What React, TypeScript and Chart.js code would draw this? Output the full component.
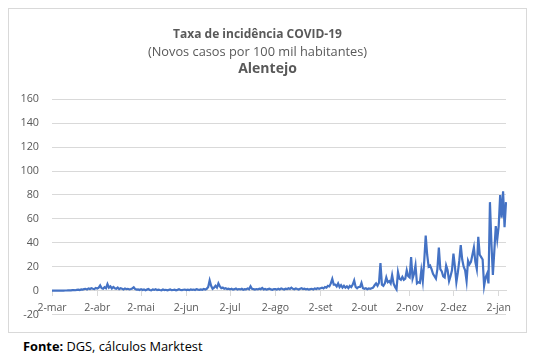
import React, { useEffect, useRef } from "react";
import { Chart, registerables } from "chart.js";

Chart.register(...registerables);

const FONT = "'Open Sans', 'Noto Sans', sans-serif";
const TEXT_COLOR = "#595959";
const GRID_COLOR = "#d9d9d9";
const LINE_COLOR = "#4472C4";

const TITLE = "Taxa de incidência COVID-19";
const SUBTITLE = "(Novos casos por 100 mil habitantes)";
const REGION = "Alentejo";
const SOURCE_LABEL = "Fonte:";
const SOURCE_TEXT = " DGS, cálculos Marktest";

const monthNames = ["jan", "fev", "mar", "abr", "mai", "jun", "jul", "ago", "set", "out", "nov", "dez"];
const yTickValues = [-20, 0, 20, 40, 60, 80, 100, 120, 140, 160];

// Daily values, 2-mar-2020 onwards (one array per month, starting on the 2nd)
const marValues = [0, 0, 0, 0, 0, 0, 0, 0, 0, 0.1, 0.1, 0.2, 0.3, 0.2, 0.4, 0.5, 0.3, 0.6, 0.8, 0.5, 1, 0.8, 1.2, 1.5, 1, 1.8, 1.3, 2, 1.5, 1.2, 2.2];
const abrValues = [1.8, 2.5, 4.4, 2, 1.5, 2.8, 2, 5.5, 2.5, 3.5, 1.8, 3, 2, 1.5, 2.5, 1.2, 2, 1.5, 1, 1.8, 1.2, 1.5, 1, 1.3, 1.8, 2.8, 1.2, 0.8, 1, 0.5];
const maiValues = [1.2, 0.5, 1, 0.3, 0.8, 1.3, 0.5, 0.2, 1, 0.6, 1.2, 0.4, 0.8, 0.5, 0.3, 0.9, 0.5, 0.7, 0.3, 0.6, 1, 0.4, 0.5, 0.8, 0.3, 0.6, 1.1, 0.5, 0.4, 0.7, 0.9];
const junValues = [0.5, 0.8, 0.4, 1, 0.6, 0.9, 0.5, 1.2, 0.8, 0.6, 1, 0.7, 1.3, 0.8, 1.5, 3, 8.5, 4, 1.5, 2.5, 4, 2.5, 6, 3.5, 2, 2.5, 1.5, 2, 1.2, 1.6];
const julValues = [1, 1.5, 0.8, 1.2, 1.8, 0.9, 1.3, 1, 1.5, 0.7, 1.2, 1, 1.8, 1.2, 3.6, 1.5, 1.2, 0.8, 1.3, 1, 1.6, 1.2, 2.2, 1, 1.4, 0.8, 1.2, 1.6, 1, 0.7, 1.3];
const agoValues = [1.2, 0.8, 1.5, 1, 1.8, 1.3, 0.9, 1.6, 1.2, 2, 1.4, 2.5, 1.5, 1.1, 1.8, 1.3, 0.9, 1.5, 2, 1.2, 1.6, 1, 1.4, 0.8, 1.2, 1.5, 1, 1.8, 1.3, 2, 1.5];
const setValues = [2, 2.5, 1.8, 3, 2.5, 4, 3.5, 6, 9.7, 5, 5, 3.5, 6, 3, 4.5, 2.5, 4, 2.5, 3.5, 2, 4, 3, 5, 8.5, 3, 2, 3, 3, 6.4, 2];
const outValues = [1.5, 2, 1.2, 1.8, 1.5, 2, 2.5, 4.5, 6, 4, 6.5, 23, 5, 4, 6, 11, 7, 8, 6, 13, 6, 3, 1, 15.5, 10, 9, 11.4, 9, 10, 17, 12];
const novValues = [11, 28, 10, 14, 21, 6, 7, 6.5, 17, 8, 25, 46, 30, 20, 21, 18, 14, 12, 10, 18, 36, 18, 16, 12, 11, 21, 17, 8, 12, 17];
const dezValues = [31, 20, 7, 15, 25, 38, 26, 20, 17, 8, 25, 22, 24, 30, 36, 24, 18, 45, 30, 28, 26, 4, 11, 14, 6, 74, 40, 13, 33, 54, 43];
const janValues = [54, 80, 61, 83, 53, 74];

const values = [
  ...marValues, ...abrValues, ...maiValues, ...junValues, ...julValues, ...agoValues,
  ...setValues, ...outValues, ...novValues, ...dezValues, ...janValues,
];

const categories = values.map((_, i) => {
  const d = new Date(2020, 2, 2 + i);
  return `${d.getDate()}-${monthNames[d.getMonth()]}`;
});

const isMonthTick = (label: string) => label.startsWith("2-");

const regionLabelPlugin = {
  id: "regionLabel",
  afterDraw(chart: any) {
    const { ctx, chartArea } = chart;
    ctx.save();
    ctx.font = `bold 14px ${FONT}`;
    ctx.fillStyle = TEXT_COLOR;
    ctx.textAlign = "center";
    ctx.textBaseline = "middle";
    ctx.fillText(REGION, chart.width / 2, chartArea.top - 30);
    ctx.restore();
  },
};

export default function App() {
  const canvasRef = useRef<HTMLCanvasElement | null>(null);

  useEffect(() => {
    if (!canvasRef.current) return;
    const chart = new Chart(canvasRef.current, {
      type: "line",
      data: {
        labels: categories,
        datasets: [
          {
            data: values,
            borderColor: LINE_COLOR,
            backgroundColor: LINE_COLOR,
            borderWidth: 2.2,
            pointRadius: 0,
            tension: 0,
          },
        ],
      },
      options: {
        animation: false,
        responsive: true,
        maintainAspectRatio: false,
        layout: { padding: { left: 0, right: 20, top: 0, bottom: 17.5 } },
        plugins: {
          legend: { display: false },
          tooltip: { enabled: false },
          title: {
            display: true,
            text: TITLE,
            color: TEXT_COLOR,
            font: { family: FONT, size: 12, weight: "bold" },
            padding: { top: 18.8, bottom: 1.3 },
          },
          subtitle: {
            display: true,
            text: SUBTITLE,
            color: TEXT_COLOR,
            font: { family: FONT, size: 12.8, weight: "normal" },
            padding: { top: 1.0, bottom: 39.5 },
          },
        },
        scales: {
          x: {
            type: "category",
            position: { y: 0 } as any,
            afterFit: (scale: any) => {
              scale.height = 13;
            },
            grid: {
              display: true,
              drawOnChartArea: false,
              drawTicks: true,
              tickLength: 5,
              color: (ctx: any) =>
                ctx.tick && isMonthTick(categories[ctx.index] || "") ? GRID_COLOR : "rgba(0,0,0,0)",
            },
            border: { display: true, color: GRID_COLOR, width: 1 },
            ticks: {
              autoSkip: false,
              maxRotation: 0,
              minRotation: 0,
              padding: 6,
              color: TEXT_COLOR,
              font: { family: FONT, size: 10.5 },
              callback: (_v: any, i: number) => (isMonthTick(categories[i]) ? categories[i] : ""),
            },
          },
          y: {
            min: yTickValues[0],
            max: yTickValues[yTickValues.length - 1],
            afterFit: (scale: any) => {
              scale.width = 43;
            },
            grid: {
              color: GRID_COLOR,
              drawTicks: true,
              tickLength: 13,
              tickColor: "rgba(0,0,0,0)",
              lineWidth: 1,
            },
            border: { display: false },
            ticks: {
              stepSize: yTickValues[1] - yTickValues[0],
              padding: 0,
              color: TEXT_COLOR,
              font: { family: FONT, size: 10.8 },
            },
          },
        },
      },
      plugins: [regionLabelPlugin],
    });
    return () => chart.destroy();
  }, []);

  return (
    <div style={{ fontFamily: FONT }}>
      <div
        style={{
          position: "relative",
          width: 519,
          height: 325,
          boxSizing: "border-box",
          border: `1px solid ${GRID_COLOR}`,
          background: "#fff",
        }}
      >
        <canvas ref={canvasRef} />
      </div>
      <div style={{ marginTop: 5, paddingLeft: 15, fontSize: 12.8, lineHeight: "17px", color: "#000" }}>
        <b>{SOURCE_LABEL}</b>
        {SOURCE_TEXT}
      </div>
    </div>
  );
}
